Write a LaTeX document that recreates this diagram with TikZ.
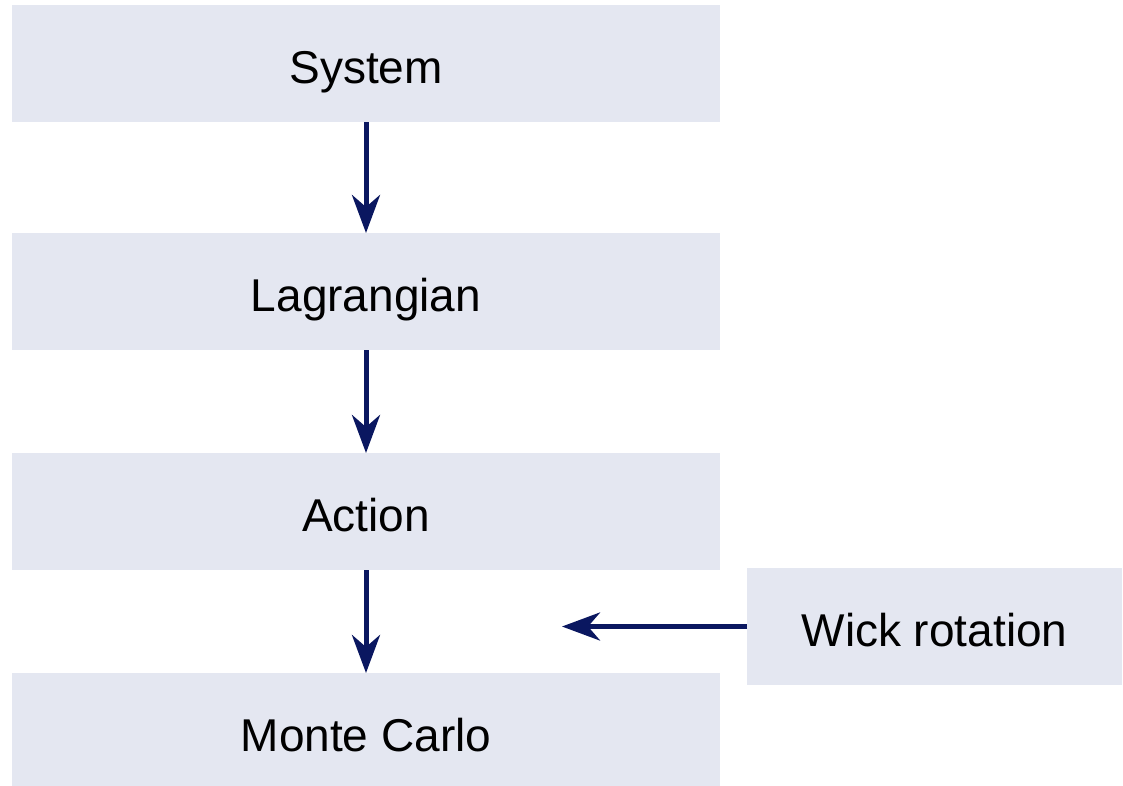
\documentclass[tikz,border=0pt]{standalone}
\usepackage{fontspec}
\setmainfont{Liberation Sans}
\usetikzlibrary{arrows.meta}
\definecolor{boxfill}{HTML}{E4E7F1}
\definecolor{arrowblue}{HTML}{0A1760}
\tikzset{
  stagebox/.style={fill=boxfill, draw=none, minimum width=708pt, minimum height=117pt,
    inner sep=0pt, outer sep=0pt, text height=39pt, text depth=0pt,
    font=\fontsize{46}{52}\selectfont},
  sidebox/.style={stagebox, minimum width=375pt},
  flow/.style={draw=arrowblue, line width=5pt,
    -{Stealth[length=38pt, width=28pt, inset=12pt]}}
}
\begin{document}
\begin{tikzpicture}[x=1pt, y=-1pt]
\useasboundingbox[fill=white] (0,0) rectangle (1123,785);
% Main chain
\node[stagebox] (system) at (366,63.5) {System};
\node[stagebox] (lagrangian) at (366,291.5) {Lagrangian};
\node[stagebox] (action) at (366,511.5) {Action};
\node[stagebox] (montecarlo) at (366,731.5) {Monte Carlo};
% Side input
\node[sidebox] (wick) at (934.5,626.5) {Wick rotation};
\coordinate (wickend) at (562,626.5);
% Arrows
\draw[flow] (system) -- (lagrangian);
\draw[flow] (lagrangian) -- (action);
\draw[flow] (action) -- (montecarlo);
\draw[flow] (wick) -- (wickend);
\end{tikzpicture}
\end{document}
